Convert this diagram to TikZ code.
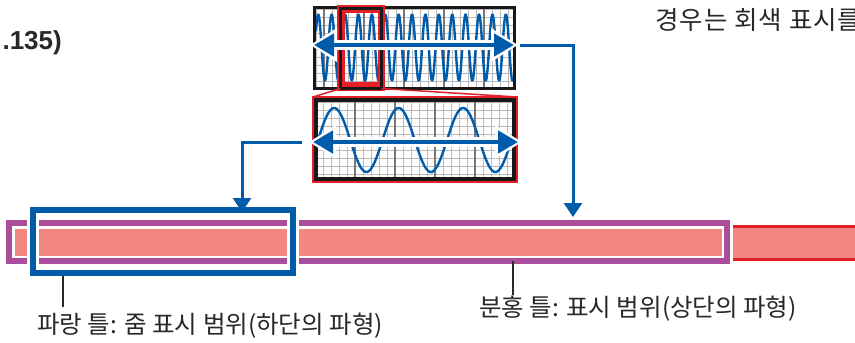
\documentclass[tikz,border=0pt]{standalone}
\usepackage{fontspec}
\setmainfont{Liberation Sans}
\newfontfamily\krfont{Noto Sans CJK KR}
\newfontfamily\krwide[LetterSpace=4]{Noto Sans CJK KR}
\usetikzlibrary{arrows.meta}
\definecolor{cblue}{RGB}{0,92,170}
\definecolor{cmag}{RGB}{170,78,155}
\definecolor{csalmon}{RGB}{242,135,130}
\definecolor{cred}{RGB}{230,30,40}
\definecolor{ctext}{RGB}{40,40,40}
\definecolor{gminor}{RGB}{185,185,185}
\definecolor{gmajor}{RGB}{120,120,120}
\begin{document}
\begin{tikzpicture}[x=1pt,y=-1pt,
  frame/.style={draw, rectangle, inner sep=0pt, outer sep=0pt},
  lbl/.style={font=\krfont\fontsize{24.5}{28}\selectfont, text=ctext, inner sep=0pt},
  notelbl/.style={font=\krwide\fontsize{25.5}{29}\selectfont, text=ctext, inner sep=0pt},
  wave/.style={cblue, line width=2.4pt, line join=round},
  conn/.style={cblue, line width=3pt, -{Triangle[length=14pt,width=18pt]}},
  leader/.style={ctext, line width=2pt},
  gridmin/.style={gminor, line width=1pt},
  gridmaj/.style={gmajor, line width=1.3pt},
  dblwhite/.style={white, line width=10pt, {Triangle[length=27pt,width=32pt]}-{Triangle[length=27pt,width=32pt]}},
  dblblue/.style={cblue, line width=4.6pt, {Triangle[length=20pt,width=22pt]}-{Triangle[length=20pt,width=22pt]}}
]
\clip (0,0) rectangle (855,343);
\fill[white] (0,0) rectangle (855,343);

% ---------- bottom bar ----------
\node[frame, draw=cmag, line width=6.5pt, minimum width=718pt, minimum height=38pt] (pinkframe) at (368,242) {};
\node[fill=csalmon, inner sep=0pt, minimum width=707pt, minimum height=27pt] (pinkfill) at (368.5,242) {};
\node[fill=csalmon, inner sep=0pt, anchor=west, minimum width=130pt, minimum height=36pt] (redbar) at (733,243) {};
\fill[cred] (redbar.north west) rectangle ([yshift=-3pt]redbar.north east);
\fill[cred] ([yshift=3pt]redbar.south west) rectangle (redbar.south east);

% leaders
\coordinate (lead1) at (63,307);
\coordinate (lead2) at (513,295);
\draw[leader] (pinkframe.south -| lead2) -- (lead2);

\node[frame, draw=white, line width=12pt, minimum width=260pt, minimum height=63pt] (bluehalo) at (163,241.5) {};
\node[frame, draw=cblue, line width=6pt, minimum width=260pt, minimum height=63pt] (blueframe) at (163,241.5) {};
\draw[leader] ([yshift=-3pt]blueframe.south -| lead1) -- (lead1);

% ---------- top waveform ----------
\begin{scope}
\clip (316,9) rectangle (513,87);
\foreach \x in {316,324,...,516} \draw[gridmin] (\x,9) -- (\x,87);
\foreach \y in {9,17,...,89} \draw[gridmin] (316,\y) -- (513,\y);
\foreach \x in {324,364,...,516} \draw[gridmaj] (\x,9) -- (\x,87);
\draw[wave] plot[domain=316:513, samples=700] (\x,{47.5-33*sin(26.866*(\x-341.7))});
\end{scope}
\node[frame, draw=black!90, line width=3pt, minimum width=200pt, minimum height=81pt] (topbox) at (414.5,48) {};

% ---------- zoomed waveform ----------
\begin{scope}
\clip (317.5,101.5) rectangle (512.5,177.5);
\foreach \x in {315,323,...,515} \draw[gridmin] (\x,101) -- (\x,178);
\foreach \y in {102,110,...,178} \draw[gridmin] (317,\y) -- (513,\y);
\foreach \x in {355,395,...,475} \draw[gridmaj] (\x,101) -- (\x,178);
\draw[wave] plot[domain=317:513, samples=300] (\x,{140-32*sin(5.5814*(\x-318))});
\end{scope}
\node[frame, draw=cred, line width=2pt, minimum width=204pt, minimum height=85pt] (zoomred) at (415,139.5) {};
\node[frame, draw=black!90, line width=3.5pt, minimum width=198.4pt, minimum height=79.4pt] (zoombox) at (415,139.5) {};

% selection rectangle on top waveform
\node[frame, draw=cred, line width=1.5pt, minimum width=46pt, minimum height=84pt] (selout) at (361,48) {};
\node[frame, draw=black!90, line width=3pt, minimum width=41pt, minimum height=80pt] (sel) at (361,48.5) {};
\node[frame, draw=cred, line width=2.5pt, minimum width=35.5pt, minimum height=74.5pt] (selin) at (361,48.5) {};
\fill[cred] (342,82) rectangle (380,87);
\draw[cred, line width=1.5pt] (sel.south west) -- (zoomred.north west);
\draw[cred, line width=1.5pt] (sel.south east) -- (zoomred.north east);

% double arrows
\coordinate (a1l) at (314,45); \coordinate (a1r) at (514,45);
\coordinate (a2l) at (313,142); \coordinate (a2r) at (518,142);
\draw[dblwhite] ([xshift=-4pt]a1l) -- ([xshift=4pt]a1r);
\draw[dblblue] (a1l) -- (a1r);
\draw[dblwhite] ([xshift=-4pt]a2l) -- ([xshift=4pt]a2r);
\draw[dblblue] (a2l) -- (a2r);

% connectors
\coordinate (c1s) at (520,45); \coordinate (c1e) at (573,217);
\coordinate (c2s) at (302,142); \coordinate (c2e) at (242,212);
\draw[conn] (c1s) -| (c1e);
\draw[conn] (c2s) -| (c2e);

% texts
\node[lbl, anchor=west] (lab1) at (37,326) {파랑 틀: 줌 표시 범위(하단의 파형)};
\node[lbl, anchor=west] (lab2) at (479,309) {분홍 틀: 표시 범위(상단의 파형)};
\node[notelbl, anchor=west] (note) at (655,20) {경우는 회색 표시를};
\node[font=\bfseries\fontsize{26}{30}\selectfont, text=ctext, anchor=base east, inner sep=0pt] (pref) at (62,49) {.135)};
\end{tikzpicture}
\end{document}
